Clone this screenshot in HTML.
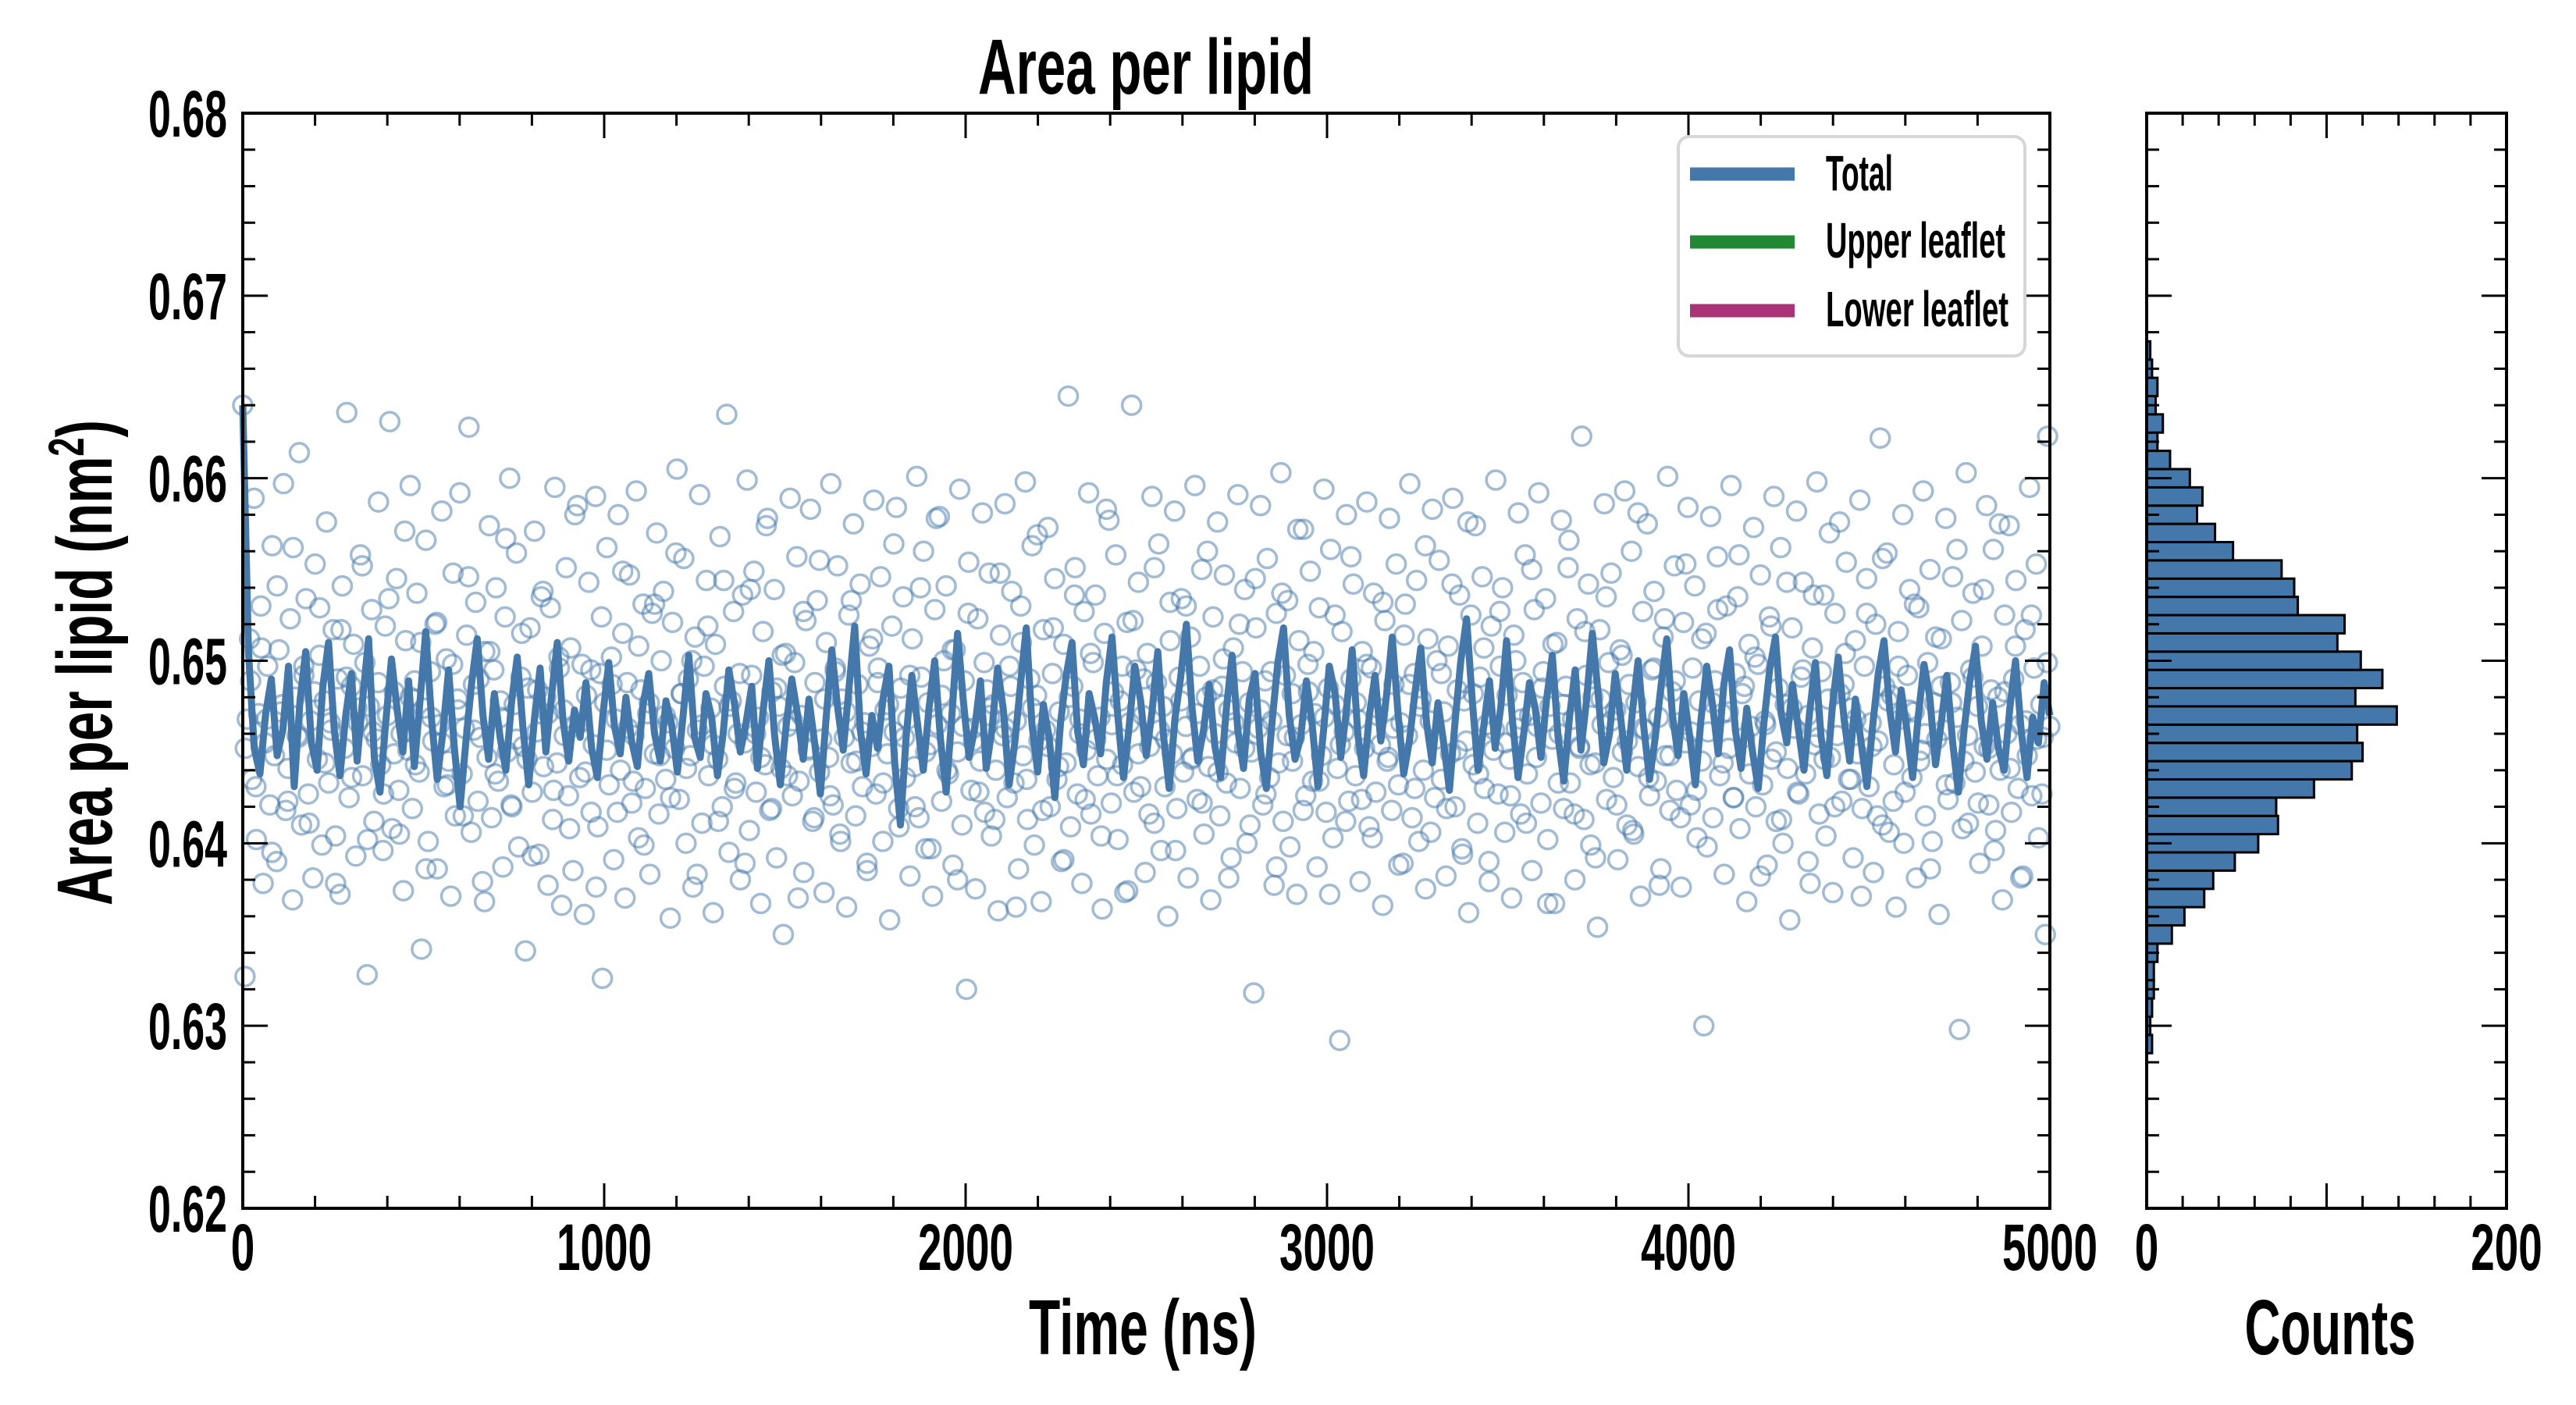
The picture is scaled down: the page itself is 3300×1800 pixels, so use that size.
<!DOCTYPE html>
<html><head><meta charset="utf-8"><style>
html,body{margin:0;padding:0;background:#fff}
svg{display:block}
text{font-family:"Liberation Sans Narrow","Liberation Sans",sans-serif;font-weight:bold;fill:#000}
</style></head><body>
<svg id="chart" width="3300" height="1800" viewBox="0 0 3300 1800" xmlns="http://www.w3.org/2000/svg">
<g id="scatter"></g>
<g id="line"></g>
<g id="hist"></g>
<g id="axes"></g>
<text x="1468" y="120" font-size="100" text-anchor="middle" textLength="430" lengthAdjust="spacingAndGlyphs">Area per lipid</text>
<text x="1464" y="1735" font-size="100" text-anchor="middle" textLength="292" lengthAdjust="spacingAndGlyphs">Time (ns)</text>
<text x="2985" y="1735" font-size="100" text-anchor="middle" textLength="219" lengthAdjust="spacingAndGlyphs">Counts</text>
<text transform="translate(143,849) rotate(-90)" x="0" y="0" font-size="100" text-anchor="middle" textLength="622" lengthAdjust="spacingAndGlyphs">Area per lipid (nm<tspan font-size="64" dy="-36">2</tspan><tspan dy="36">)</tspan></text>
<g>
<rect x="2150" y="175" width="444" height="281" rx="14" fill="#fff" stroke="#d6d6d6" stroke-width="4"/>
<line x1="2165" y1="223" x2="2299" y2="223" stroke="#4477aa" stroke-width="17"/>
<line x1="2165" y1="310" x2="2299" y2="310" stroke="#228833" stroke-width="17"/>
<line x1="2165" y1="398" x2="2299" y2="398" stroke="#aa3377" stroke-width="17"/>
<text x="2339" y="244" font-size="64" textLength="86" lengthAdjust="spacingAndGlyphs">Total</text>
<text x="2339" y="330" font-size="64" textLength="230" lengthAdjust="spacingAndGlyphs">Upper leaflet</text>
<text x="2339" y="418" font-size="64" textLength="234" lengthAdjust="spacingAndGlyphs">Lower leaflet</text>
</g>
</svg>
<script>
const yTicks=[0.62,0.63,0.64,0.65,0.66,0.67,0.68];
const yTickLabels=["0.62","0.63","0.64","0.65","0.66","0.67","0.68"];
const xTicks=[0,1000,2000,3000,4000,5000];
const xTickLabels=["0","1000","2000","3000","4000","5000"];
const hTicks=[0,200];
const hTickLabels=["0","200"];
const histBinStart=0.6285;
const histBinWidth=0.001;
const histCounts=[3,2,3,4,4,6,14,21,32,37,49,62,73,72,93,114,120,117,139,116,131,119,106,110,84,82,75,48,38,28,31,24,13,6,9,5,6,3,2];
const scatterValues=[.6640,.6327,.6468,.6512,.6435,.6589,.6402,.6471,.6530,.6378,.6455,.6497,.6421,.6563,.6448,.6390,.6506,.6472,.6597,.6418,
.6441,.6523,.6369,.6480,.6459,.6614,.6410,.6492,.6534,.6427,.6467,.6381,.6553,.6446,.6503,.6399,.6478,.6576,.6433,.6462,
.6517,.6404,.6490,.6372,.6541,.6452,.6636,.6425,.6486,.6509,.6393,.6466,.6558,.6437,.6499,.6328,.6475,.6528,.6412,.6457,
.6587,.6443,.6396,.6519,.6470,.6631,.6408,.6483,.6545,.6429,.6460,.6374,.6511,.6451,.6596,.6419,.6489,.6537,.6439,.6342,
.6474,.6566,.6401,.6494,.6456,.6520,.6386,.6465,.6582,.6431,.6501,.6445,.6371,.6548,.6415,.6479,.6592,.6438,.6463,.6514,
.6628,.6406,.6487,.6532,.6423,.6458,.6379,.6505,.6447,.6574,.6414,.6495,.6540,.6434,.6469,.6387,.6524,.6450,.6600,.6420,
.6476,.6559,.6398,.6491,.6453,.6341,.6485,.6518,.6428,.6571,.6461,.6394,.6535,.6442,.6480,.6377,.6529,.6413,.6595,.6444,
.6496,.6366,.6473,.6551,.6426,.6507,.6385,.6464,.6585,.6436,.6498,.6361,.6481,.6543,.6417,.6454,.6590,.6409,.6493,.6326,
.6477,.6562,.6432,.6502,.6391,.6468,.6580,.6440,.6515,.6370,.6488,.6547,.6422,.6459,.6593,.6403,.6484,.6531,.6430,.6471,
.6383,.6526,.6449,.6570,.6416,.6500,.6538,.6435,.6466,.6359,.6521,.6452,.6605,.6424,.6482,.6556,.6400,.6490,.6448,.6376,
.6513,.6462,.6591,.6411,.6497,.6544,.6437,.6474,.6362,.6509,.6446,.6568,.6420,.6486,.6635,.6395,.6478,.6527,.6433,.6460,
.6380,.6536,.6455,.6599,.6407,.6492,.6549,.6428,.6469,.6367,.6516,.6443,.6578,.6418,.6483,.6539,.6392,.6475,.6441,.6350,
.6504,.6464,.6589,.6426,.6499,.6557,.6434,.6470,.6384,.6522,.6451,.6583,.6412,.6488,.6533,.6439,.6457,.6373,.6510,.6447,
.6597,.6421,.6494,.6552,.6405,.6479,.6458,.6365,.6525,.6444,.6575,.6415,.6487,.6542,.6431,.6466,.6389,.6508,.6453,.6588,
.6427,.6496,.6546,.6401,.6473,.6449,.6358,.6519,.6461,.6584,.6419,.6485,.6535,.6436,.6468,.6382,.6512,.6442,.6601,.6414,
.6491,.6560,.6397,.6477,.6454,.6371,.6528,.6465,.6579,.6423,.6500,.6541,.6438,.6471,.6388,.6506,.6450,.6594,.6410,.6489,
.6320,.6554,.6429,.6463,.6375,.6523,.6445,.6581,.6417,.6484,.6548,.6404,.6476,.6440,.6363,.6514,.6459,.6586,.6425,.6497,
.6538,.6433,.6467,.6386,.6530,.6448,.6598,.6413,.6490,.6563,.6399,.6481,.6456,.6368,.6517,.6462,.6573,.6420,.6493,.6545,
.6435,.6472,.6390,.6509,.6444,.6645,.6409,.6486,.6551,.6427,.6460,.6378,.6527,.6451,.6592,.6416,.6499,.6536,.6437,.6469,
.6364,.6515,.6446,.6577,.6422,.6483,.6558,.6402,.6478,.6443,.6373,.6521,.6466,.6640,.6428,.6495,.6543,.6431,.6470,.6384,
.6504,.6453,.6590,.6411,.6488,.6564,.6396,.6475,.6457,.6360,.6532,.6449,.6582,.6419,.6491,.6534,.6439,.6464,.6381,.6513,
.6447,.6596,.6424,.6497,.6550,.6405,.6480,.6442,.6369,.6524,.6460,.6576,.6415,.6486,.6547,.6433,.6473,.6392,.6507,.6455,
.6591,.6430,.6494,.6539,.6400,.6477,.6450,.6318,.6518,.6463,.6585,.6421,.6489,.6556,.6436,.6467,.6377,.6526,.6444,.6603,
.6412,.6492,.6533,.6398,.6482,.6458,.6372,.6511,.6465,.6572,.6426,.6498,.6549,.6434,.6471,.6387,.6529,.6448,.6594,.6417,
.6485,.6561,.6403,.6476,.6441,.6292,.6516,.6461,.6580,.6423,.6490,.6542,.6437,.6468,.6379,.6505,.6452,.6587,.6409,.6496,
.6537,.6428,.6474,.6454,.6366,.6522,.6445,.6578,.6418,.6487,.6553,.6432,.6466,.6389,.6531,.6459,.6597,.6414,.6493,.6544,
.6401,.6479,.6440,.6375,.6512,.6467,.6583,.6425,.6500,.6555,.6435,.6472,.6382,.6508,.6449,.6589,.6420,.6484,.6536,.6397,
.6478,.6456,.6362,.6525,.6443,.6574,.6411,.6491,.6546,.6430,.6465,.6390,.6519,.6451,.6599,.6427,.6497,.6540,.6406,.6481,
.6446,.6370,.6514,.6463,.6581,.6416,.6488,.6558,.6438,.6470,.6385,.6528,.6447,.6592,.6422,.6494,.6534,.6402,.6475,.6457,
.6367,.6510,.6460,.6577,.6419,.6486,.6551,.6433,.6468,.6380,.6523,.6453,.6623,.6413,.6492,.6542,.6399,.6480,.6444,.6354,
.6517,.6465,.6586,.6424,.6499,.6548,.6436,.6473,.6391,.6506,.6450,.6593,.6410,.6487,.6560,.6405,.6477,.6442,.6371,.6527,
.6462,.6575,.6426,.6495,.6538,.6434,.6469,.6386,.6513,.6448,.6601,.6418,.6483,.6552,.6429,.6466,.6376,.6521,.6455,.6584,
.6421,.6496,.6541,.6403,.6478,.6445,.6300,.6515,.6461,.6579,.6414,.6489,.6557,.6437,.6471,.6383,.6530,.6452,.6596,.6425,
.6493,.6535,.6408,.6482,.6458,.6368,.6509,.6464,.6573,.6420,.6498,.6547,.6432,.6467,.6388,.6524,.6446,.6590,.6412,.6485,
.6562,.6400,.6476,.6441,.6358,.6518,.6463,.6582,.6427,.6491,.6543,.6438,.6470,.6378,.6507,.6454,.6598,.6416,.6494,.6536,
.6404,.6479,.6447,.6373,.6526,.6459,.6576,.6423,.6487,.6554,.6435,.6474,.6392,.6511,.6449,.6588,.6419,.6497,.6545,.6431,
.6466,.6384,.6520,.6456,.6622,.6410,.6486,.6559,.6406,.6481,.6443,.6365,.6516,.6468,.6580,.6428,.6492,.6539,.6436,.6472,
.6381,.6529,.6451,.6593,.6415,.6499,.6550,.6401,.6477,.6457,.6361,.6512,.6462,.6578,.6424,.6488,.6546,.6433,.6469,.6298,
.6522,.6445,.6603,.6411,.6495,.6537,.6439,.6475,.6389,.6508,.6453,.6585,.6421,.6484,.6561,.6407,.6480,.6440,.6369,.6525,
.6460,.6574,.6417,.6490,.6544,.6430,.6465,.6382,.6517,.6448,.6595,.6426,.6496,.6553,.6403,.6476,.6458,.6350,.6623,.6464];
const scatterValues2=[.6452,.6489,.6431,.6507,.6468,.6395,.6541,.6476,.6423,.6562,.6458,.6497,.6411,.6483,.6529,.6444,.6466,.6378,.6517,.6491,
.6436,.6474,.6552,.6402,.6461,.6488,.6427,.6534,.6449,.6405,.6571,.6480,.6443,.6510,.6386,.6469,.6521,.6455,.6432,.6498,
.6473,.6415,.6546,.6462,.6490,.6368,.6505,.6438,.6478,.6567,.6421,.6457,.6515,.6446,.6393,.6484,.6538,.6471,.6429,.6502,
.6459,.6408,.6580,.6466,.6439,.6495,.6376,.6524,.6451,.6487,.6417,.6549,.6463,.6434,.6508,.6399,.6477,.6531,.6448,.6470,
.6425,.6559,.6482,.6441,.6500,.6383,.6465,.6519,.6454,.6412,.6544,.6475,.6430,.6493,.6389,.6539,.6460,.6447,.6574,.6419,
.6485,.6503,.6437,.6467,.6370,.6527,.6452,.6414,.6555,.6479,.6426,.6496,.6401,.6472,.6533,.6445,.6461,.6385,.6512,.6488,
.6433,.6476,.6564,.6409,.6458,.6492,.6420,.6540,.6450,.6397,.6578,.6481,.6440,.6506,.6380,.6464,.6526,.6456,.6428,.6499,
.6470,.6413,.6548,.6463,.6486,.6365,.6510,.6435,.6474,.6569,.6418,.6453,.6518,.6442,.6391,.6480,.6536,.6468,.6424,.6504,
.6457,.6404,.6583,.6465,.6437,.6497,.6374,.6522,.6449,.6490,.6416,.6551,.6462,.6431,.6511,.6396,.6478,.6530,.6446,.6471,
.6422,.6560,.6484,.6439,.6501,.6381,.6466,.6520,.6452,.6410,.6545,.6473,.6427,.6494,.6387,.6537,.6459,.6445,.6572,.6418,
.6483,.6505,.6434,.6469,.6372,.6525,.6454,.6412,.6557,.6477,.6424,.6498,.6403,.6470,.6532,.6447,.6463,.6388,.6514,.6487,
.6430,.6475,.6563,.6406,.6457,.6493,.6419,.6542,.6451,.6394,.6576,.6482,.6438,.6507,.6379,.6462,.6527,.6455,.6426,.6500,
.6468,.6411,.6550,.6464,.6485,.6367,.6509,.6433,.6476,.6566,.6416,.6452,.6516,.6443,.6392,.6479,.6535,.6467,.6421,.6503,
.6456,.6407,.6581,.6463,.6436,.6496,.6377,.6523,.6448,.6489,.6414,.6553,.6461,.6429,.6512,.6398,.6477,.6528,.6444,.6472,
.6425,.6558,.6486,.6438,.6502,.6382,.6465,.6519,.6450,.6413,.6543,.6474,.6428,.6495,.6390,.6536,.6458,.6446,.6570,.6420,
.6482,.6504,.6435,.6468,.6371,.6526,.6453,.6415,.6556,.6478,.6423,.6497,.6400,.6473,.6531,.6445,.6460,.6386,.6513,.6486,
.6432,.6477,.6561,.6408,.6459,.6491,.6422,.6539,.6452,.6396,.6575,.6483,.6441,.6508,.6381,.6467,.6525,.6457,.6427,.6499];
const lineValues=[.6640,.6505,.6452,.6438,.6471,.6490,.6448,.6462,.6497,.6431,.6478,.6505,.6455,.6440,.6486,.6510,.6462,.6437,.6470,.6493,
.6445,.6480,.6512,.6447,.6428,.6466,.6501,.6473,.6450,.6489,.6442,.6478,.6516,.6468,.6435,.6461,.6495,.6452,.6420,.6455,
.6487,.6512,.6470,.6446,.6482,.6458,.6440,.6477,.6502,.6463,.6432,.6468,.6496,.6450,.6481,.6510,.6467,.6445,.6473,.6458,
.6488,.6452,.6436,.6471,.6499,.6464,.6449,.6480,.6456,.6442,.6476,.6493,.6460,.6445,.6478,.6465,.6439,.6470,.6503,.6458,
.6447,.6482,.6469,.6437,.6460,.6495,.6476,.6450,.6466,.6486,.6441,.6473,.6500,.6459,.6432,.6464,.6490,.6471,.6446,.6479,
.6455,.6427,.6468,.6506,.6475,.6451,.6485,.6519,.6462,.6438,.6470,.6452,.6480,.6497,.6444,.6410,.6458,.6492,.6465,.6440,
.6474,.6500,.6457,.6428,.6470,.6515,.6478,.6447,.6463,.6489,.6441,.6462,.6496,.6473,.6432,.6455,.6487,.6518,.6465,.6439,
.6476,.6458,.6425,.6466,.6492,.6510,.6461,.6443,.6482,.6468,.6449,.6488,.6513,.6470,.6436,.6464,.6497,.6478,.6448,.6472,
.6505,.6459,.6430,.6468,.6491,.6520,.6474,.6445,.6462,.6487,.6453,.6436,.6474,.6503,.6462,.6441,.6479,.6493,.6450,.6430,
.6467,.6499,.6518,.6470,.6446,.6458,.6489,.6465,.6431,.6462,.6497,.6482,.6447,.6473,.6506,.6459,.6437,.6470,.6492,.6456,
.6481,.6513,.6472,.6438,.6456,.6483,.6507,.6466,.6444,.6477,.6455,.6429,.6467,.6500,.6523,.6478,.6440,.6464,.6489,.6452,
.6475,.6511,.6468,.6436,.6460,.6488,.6474,.6447,.6479,.6503,.6458,.6434,.6469,.6495,.6451,.6479,.6515,.6482,.6444,.6460,
.6493,.6467,.6440,.6472,.6500,.6463,.6435,.6458,.6486,.6512,.6470,.6448,.6482,.6459,.6432,.6468,.6497,.6476,.6449,.6487,
.6506,.6462,.6441,.6474,.6450,.6430,.6466,.6495,.6513,.6471,.6455,.6487,.6463,.6440,.6472,.6499,.6458,.6437,.6476,.6502,
.6468,.6445,.6479,.6455,.6431,.6464,.6493,.6511,.6473,.6450,.6484,.6462,.6436,.6470,.6498,.6480,.6443,.6466,.6492,.6455,
.6428,.6462,.6489,.6508,.6467,.6446,.6477,.6452,.6440,.6474,.6500,.6461,.6436,.6469,.6455,.6488,.6470];
const NS="http://www.w3.org/2000/svg";
const PL=311,PR=2626,PT=145,PB=1548,HL=2750,HR=3211;
const Y0=0.62,Y1=0.68,X0=0,X1=5000,H0=0,H1=200;
function ys(v){return PB-(v-Y0)/(Y1-Y0)*(PB-PT);}
function xs(t){return PL+(t-X0)/(X1-X0)*(PR-PL);}
function hs(c){return HL+(c-H0)/(H1-H0)*(HR-HL);}
function mk(tag,parent){const e=document.createElementNS(NS,tag);parent.appendChild(e);return e;}
const sc=document.getElementById('scatter');
function drawScatter(arr,t0,t1){
 for(let i=0;i<arr.length;i++){
  const c=mk('circle',sc);
  
  
  c.setAttribute('cx',xs(t0+i*(t1-t0)/(arr.length-1)));
  c.setAttribute('cy',ys(arr[i]));
  c.setAttribute('r',12);
  c.setAttribute('fill','none');
  c.setAttribute('stroke','#4477aa');
  c.setAttribute('stroke-opacity','0.5');
  c.setAttribute('stroke-width','3.5');
 }
}
drawScatter(scatterValues,0,5000);
drawScatter(scatterValues2,7,4993);
const lg=document.getElementById('line');
let d='';
for(let i=0;i<lineValues.length;i++){d+=(i?'L':'M')+xs(i*(X1-X0)/(lineValues.length-1)).toFixed(1)+' '+ys(lineValues[i]).toFixed(1);}
const p=mk('path',lg);


p.setAttribute('d',d);p.setAttribute('fill','none');p.setAttribute('stroke','#4477aa');p.setAttribute('stroke-width','9');p.setAttribute('stroke-linejoin','round');
const hg=document.getElementById('hist');
for(let i=0;i<histCounts.length;i++){
 const lo=histBinStart+i*histBinWidth,hi=lo+histBinWidth;
 const r=mk('rect',hg);
 
 
 r.setAttribute('x',hs(0));r.setAttribute('y',ys(hi));
 r.setAttribute('width',hs(histCounts[i])-hs(0));r.setAttribute('height',ys(lo)-ys(hi));
 r.setAttribute('fill','#4477aa');r.setAttribute('stroke','#000');r.setAttribute('stroke-width','3');
}
const ax=document.getElementById('axes');
function ln(x1,y1,x2,y2,w,name){const l=mk('line',ax);l.setAttribute('x1',x1);l.setAttribute('y1',y1);l.setAttribute('x2',x2);l.setAttribute('y2',y2);l.setAttribute('stroke','#000');l.setAttribute('stroke-width',w);}
function txt(x,y,s,anchor,name,len){const t=mk('text',ax);t.setAttribute('x',x);t.setAttribute('y',y);t.setAttribute('font-size','84');t.setAttribute('text-anchor',anchor);t.setAttribute('textLength',len);t.setAttribute('lengthAdjust','spacingAndGlyphs');t.textContent=s;}
[[PL,PR],[HL,HR]].forEach(([L,R],k)=>{
 const nm=k?'hist-':'';
 const f=mk('rect',ax);
 f.setAttribute('x',L);f.setAttribute('y',PT);f.setAttribute('width',R-L);f.setAttribute('height',PB-PT);f.setAttribute('fill','none');f.setAttribute('stroke','#000');f.setAttribute('stroke-width','4');
 for(let v=0;v<=30;v++){const yv=Y0+v*0.002;const y=ys(yv);const len=(v%5===0)?32:16;
  ln(L,y,L+len,y,3,nm+'y-tick');ln(R-len,y,R,y,3,nm+'y-tick-right');}
});
yTicks.forEach((v,i)=>txt(291,ys(v)+30,yTickLabels[i],'end','y-tick-label',101));
for(let t=0;t<=5000;t+=200){const x=xs(t);const len=(t%1000===0)?32:16;ln(x,PB,x,PB-len,3,'x-tick');ln(x,PT,x,PT+len,3,'x-tick-top');}
xTicks.forEach((v,i)=>txt(xs(v),1627,xTickLabels[i],'middle','x-tick-label',xTickLabels[i].length*30.5));
for(let c=0;c<=200;c+=20){const x=hs(c);const len=(c%100===0)?32:16;ln(x,PB,x,PB-len,3,'hist-x-tick');ln(x,PT,x,PT+len,3,'hist-x-tick-top');}
hTicks.forEach((v,i)=>txt(hs(v),1627,hTickLabels[i],'middle','hist-x-tick-label',hTickLabels[i].length*30.5));
</script>
</body></html>
